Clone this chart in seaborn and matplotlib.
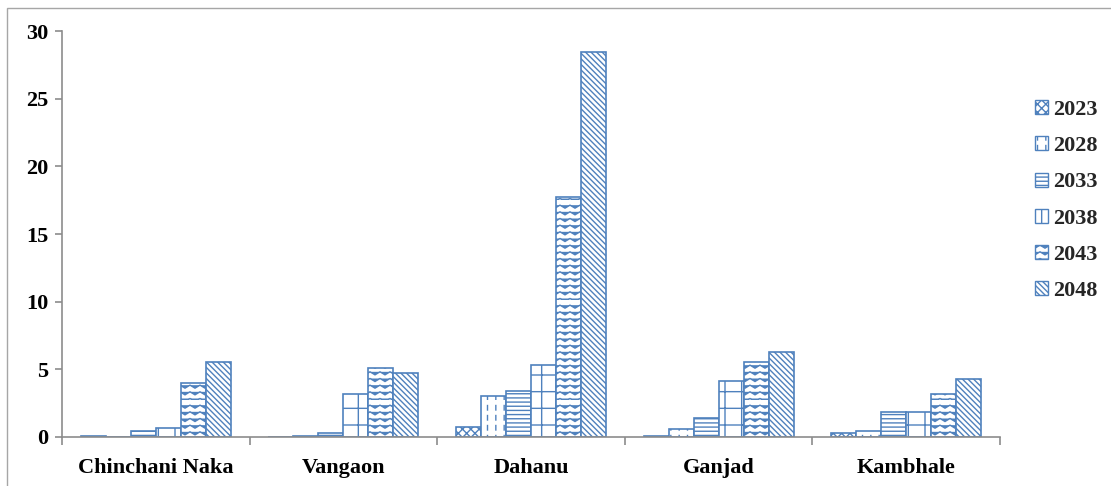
import warnings
import numpy as np
import pandas as pd
import matplotlib
matplotlib.use("Agg")
import matplotlib.pyplot as plt
from matplotlib import hatch as mhatch
from matplotlib.path import Path
from matplotlib.patches import Patch, Rectangle
import seaborn as sns

warnings.filterwarnings("ignore")

# ---- data ----
locations = ["Chinchani Naka", "Vangaon", "Dahanu", "Ganjad", "Kambhale"]
years = ["2023", "2028", "2033", "2038", "2043", "2048"]
v2023 = [0.10, 0.00, 0.74, 0.10, 0.29]
v2028 = [0.00, 0.10, 3.05, 0.60, 0.48]
v2033 = [0.45, 0.30, 3.42, 1.42, 1.82]
v2038 = [0.70, 3.18, 5.32, 4.14, 1.87]
v2043 = [4.00, 5.08, 17.74, 5.57, 3.20]
v2048 = [5.55, 4.71, 28.45, 6.28, 4.26]
yticks = [0, 5, 10, 15, 20, 25, 30]


# ---- custom hatch patterns: '~' wavy rows, ':' vertical dashes ----
class WaveHatch(mhatch.HatchPatternBase):
    periods = 10
    pts = 41

    def __init__(self, hatch, density):
        self.num_rows = int(hatch.count("~") * 5)
        self.num_vertices = self.num_rows * self.pts

    def set_vertices_and_codes(self, vertices, codes):
        x = np.linspace(0, 1, self.pts)
        amp = 0.015
        wave = amp * (np.abs(((x * self.periods * 2) % 2) - 1) * 2 - 1)
        ys = np.linspace(0, 1, self.num_rows, endpoint=False)
        for i, y0 in enumerate(ys):
            s = slice(i * self.pts, (i + 1) * self.pts)
            vertices[s, 0] = x
            vertices[s, 1] = y0 + wave
            codes[s] = Path.LINETO
            codes[i * self.pts] = Path.MOVETO


class DashHatch(mhatch.HatchPatternBase):
    rows = 10
    dash = 0.045

    def __init__(self, hatch, density):
        self.num_cols = int(hatch.count(":") * density)
        self.num_vertices = self.num_cols * self.rows * 2

    def set_vertices_and_codes(self, vertices, codes):
        k = 0
        for c in range(self.num_cols):
            x = (c + 0.5) / self.num_cols
            for r in range(self.rows):
                y0 = r / self.rows
                vertices[k] = (x, y0)
                vertices[k + 1] = (x, y0 + self.dash)
                codes[k] = Path.MOVETO
                codes[k + 1] = Path.LINETO
                k += 2


mhatch._hatch_types.extend([WaveHatch, DashHatch])

# ---- style ----
sns.set_theme(style="white")
plt.rcParams["font.family"] = ["Liberation Serif", "DejaVu Serif"]
plt.rcParams["font.weight"] = "bold"
plt.rcParams["hatch.linewidth"] = 1.0

blue = "#4F81BD"
axis_gray = "#8C8C8C"
hatches = ["xxxx", "::", "----", "+", "~~~", "\\\\\\\\\\\\"]

rows = []
for yr, vals in zip(years, [v2023, v2028, v2033, v2038, v2043, v2048]):
    for loc, v in zip(locations, vals):
        rows.append({"Location": loc, "Year": yr, "Value": v})
df = pd.DataFrame(rows)

fig = plt.figure(figsize=(11.11, 4.86), dpi=100)
ax = fig.add_axes([62 / 1111, 1 - 437 / 486, (1000 - 62) / 1111, (437 - 31) / 486])

sns.barplot(
    data=df, x="Location", y="Value", hue="Year", order=locations,
    hue_order=years, palette=["white"] * len(years), edgecolor=blue,
    linewidth=1.2, width=0.8, ax=ax, legend=False, saturation=1,
)
for cont, h in zip(ax.containers, hatches):
    for bar in cont:
        bar.set_hatch(h)
        bar.set_edgecolor(blue)

ax.set_ylim(0, 30)
ax.set_xlim(-0.5, len(locations) - 0.5)
ax.set_yticks(yticks)
ax.set_yticklabels([str(t) for t in yticks], fontsize=16, fontweight="bold")
ax.set_xticks(range(len(locations)))
ax.set_xticklabels(locations, fontsize=16, fontweight="bold")
ax.set_xticks(np.arange(-0.5, len(locations)), minor=True)
ax.set_xlabel("")
ax.set_ylabel("")

for side in ["top", "right"]:
    ax.spines[side].set_visible(False)
for side in ["left", "bottom"]:
    ax.spines[side].set_color(axis_gray)
    ax.spines[side].set_linewidth(1.2)

ax.tick_params(axis="y", which="major", direction="out", length=5,
               color=axis_gray, width=1.2, left=True, pad=5, labelcolor="black")
ax.tick_params(axis="x", which="major", length=0, pad=15, labelcolor="black")
ax.tick_params(axis="x", which="minor", direction="out", length=6,
               color=axis_gray, width=1.2, bottom=True)

# legend
handles = [Patch(facecolor="white", edgecolor=blue, hatch=h, linewidth=1.0)
           for h in hatches]
fig.legend(handles, years, loc="upper left", bbox_to_anchor=(1015 / 1111, 1 - 80 / 486),
           frameon=False, prop={"family": "Liberation Serif", "weight": "bold", "size": 16},
           handlelength=0.6, handleheight=0.6, handletextpad=0.2, labelspacing=0.73)

# outer chart border
fig.patches.append(Rectangle((7 / 1111, -0.2), 2.0, 1.2 - 8 / 486,
                             transform=fig.transFigure, fill=False,
                             edgecolor="#A6A6A6", linewidth=1.0, clip_on=False))

fig.savefig("out.png", dpi=100, facecolor="white")
